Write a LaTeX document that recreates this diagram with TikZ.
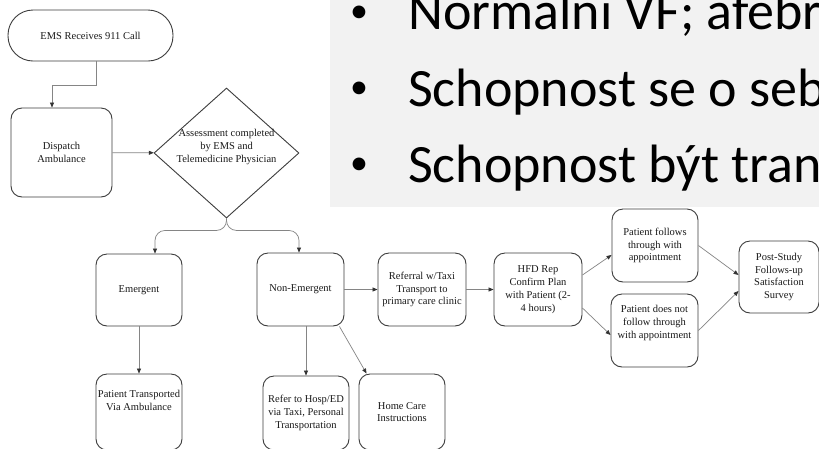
\documentclass[tikz,border=0pt]{standalone}
\usepackage{fontspec}
\setmainfont{Liberation Serif}
\newfontfamily\slidefont{Carlito}
\usetikzlibrary{shapes.geometric,arrows.meta}
\definecolor{slidegray}{HTML}{F2F2F2}
\definecolor{boxline}{HTML}{3C3C3C}
\definecolor{linkline}{HTML}{858585}
\begin{document}
\begin{tikzpicture}[
        x=1pt, y=-1pt,
        block/.style={
            rectangle,
            rounded corners=11pt,
            minimum width=86pt,
            minimum height=72pt,
            inner sep=1pt,
            align=center,
            draw=boxline,
            line width=0.9pt,
            text=black!90,
            font=\fontsize{10.5}{12.8}\selectfont
        },
        terminal/.style={block, rounded corners=25pt, minimum width=165pt, minimum height=51pt},
        decision/.style={diamond, draw=boxline, line width=0.9pt, minimum width=145pt, minimum height=130pt, inner sep=0pt},
        decisiontext/.style={align=center, text=black!90, font=\fontsize{10.5}{12.8}\selectfont, yshift=6pt},
        bullettext/.style={anchor=base west, inner sep=0pt, font=\slidefont\fontsize{54}{60}\selectfont},
        bulletdot/.style={anchor=base, inner sep=0pt, font=\slidefont\fontsize{36}{40}\selectfont},
        arrow/.style={draw=linkline, line width=0.7pt, -{Triangle[length=5pt,width=4pt,color=black!80]}}
    ]

    \useasboundingbox (0,0) rectangle (819,448);
    \clip (0,0) rectangle (819,448);
    \fill[white] (0,0) rectangle (819,448);

    % Slide panel
    \fill[slidegray] (330,-5) rectangle (830,207);
    \node (dotA) [bulletdot] at (359,22) {•};
    \node (dotB) [bulletdot] at (359,98) {•};
    \node (dotC) [bulletdot] at (359,174) {•};
    \node (lineA) [bullettext] at (408,29) {Normální VF; afebr};
    \node (lineB) [bullettext] at (408,106) {Schopnost se o seb};
    \node (lineC) [bullettext] at (408,182) {Schopnost být tran};

    % Nodes
    \node (call) [terminal] at (90.5,35.5) {EMS Receives 911 Call};

    \node (dispatch) [block, minimum width=101pt, minimum height=89pt] at (61.5,152.5) {Dispatch\\Ambulance};

    \node (assess) [decision, label={[decisiontext]center:Assessment completed\\by EMS and\\Telemedicine Physician}] at (226.5,153) {};

    \node (emergent) [block] at (139,290) {Emergent};

    \node (nonemerg) [block, minimum width=87pt, minimum height=73pt] at (300.5,289.5) {Non-Emergent};

    \node (transport) [block, minimum height=76pt, text depth=24pt] at (139,412) {Patient Transported\\Via Ambulance};

    \node (hosp) [block, minimum height=74pt] at (306,413) {Refer to Hosp/ED\\via Taxi, Personal\\Transportation};

    \node (homecare) [block, minimum height=76pt] at (402,412) {Home Care\\Instructions};

    \node (referral) [block, minimum width=88pt, minimum height=73pt] at (422,289.5) {Referral w/Taxi\\Transport to\\primary care clinic};

    \node (hfd) [block, minimum width=88pt, minimum height=73pt] at (538,289.5) {HFD Rep\\Confirm Plan\\with Patient (2-\\4 hours)};

    \node (follows) [block, minimum height=73pt] at (655,245.5) {Patient follows\\through with\\appointment};

    \node (nofollow) [block, minimum width=87pt, minimum height=73pt, text depth=17pt] at (654.5,330.5) {Patient does not\\follow through\\with appointment};

    \node (survey) [block, minimum width=80pt] at (779,277) {Post-Study\\Follows-up\\Satisfaction\\Survey};

    % Arrows
    \draw[arrow] ([xshift=5.5pt]call.south) -- ++(0,24) -| ([xshift=-9.5pt]dispatch.north);
    \draw[arrow] (dispatch) -- (assess);
    \draw[arrow, rounded corners=10pt] (assess.south) -- ++(0,12) -| ([xshift=16pt]emergent.north);
    \draw[arrow, rounded corners=10pt] (assess.south) -- ++(0,12) -| ([xshift=-1.5pt]nonemerg.north);
    \draw[arrow] (emergent) -- (transport);
    \draw[arrow] (hosp.north |- nonemerg.south) -- (hosp.north);
    \draw[arrow] ([xshift=-5pt]nonemerg.south east) -- ([xshift=8pt]homecare.north west);
    \draw[arrow] (nonemerg) -- (referral);
    \draw[arrow] (referral) -- (hfd);
    \draw[arrow] ([yshift=14.5pt]hfd.east) -- ([yshift=-9.5pt]follows.west);
    \draw[arrow] ([yshift=-18.5pt]hfd.east) -- ([yshift=-4.5pt]nofollow.west);
    \draw[arrow] (follows.east) -- ([yshift=2pt]survey.west);
    \draw[arrow] (nofollow.east) -- ([yshift=-14pt]survey.west);

    \end{tikzpicture}
\end{document}
